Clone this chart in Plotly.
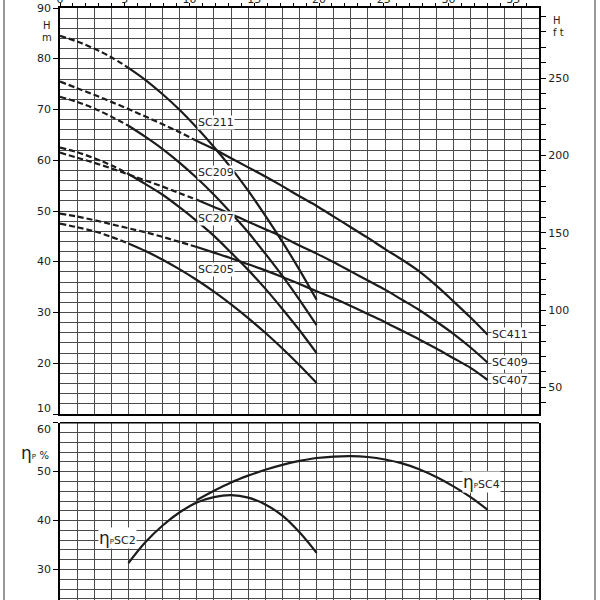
import plotly.graph_objects as go

# ---------------- data ----------------
Q_SC2 = [0, 5, 10, 15, 20, 25, 30, 35, 40, 45, 50, 55, 60, 65, 70, 75]          # l/min
H_SC211 = [84.5, 83.4, 82.0, 80.3, 78.2, 75.8, 73.0, 69.9, 66.4, 62.6, 58.5, 54.0, 49.1, 43.9, 38.4, 32.5]
H_SC209 = [72.5, 71.5, 70.2, 68.6, 66.8, 64.6, 62.2, 59.5, 56.5, 53.2, 49.6, 45.8, 41.6, 37.2, 32.5, 27.5]
H_SC207 = [62.5, 61.6, 60.4, 59.0, 57.3, 55.3, 53.2, 50.7, 48.0, 45.1, 41.8, 38.4, 34.7, 30.7, 26.5, 22.0]
H_SC205 = [47.5, 46.8, 46.0, 44.9, 43.6, 42.1, 40.4, 38.5, 36.4, 34.1, 31.6, 28.9, 26.0, 22.9, 19.6, 16.1]

Q_SC4 = [0, 5, 10, 15, 20, 25, 30, 35, 40, 45, 50, 55, 60, 65, 70, 75, 80, 85, 90, 95,
         100, 105, 110, 115, 120, 125]
H_SC411 = [75.5, 74.2, 72.9, 71.5, 70.1, 68.6, 67.1, 65.5, 63.8, 62.2, 60.4, 58.6, 56.8, 54.9,
           52.9, 51.0, 48.9, 46.8, 44.7, 42.5, 40.4, 38.1, 35.3, 32.2, 29.0, 25.6]
H_SC409 = [61.5, 60.5, 59.5, 58.4, 57.2, 56.0, 54.8, 53.5, 52.2, 50.8, 49.4, 47.9, 46.4, 44.9,
           43.2, 41.6, 39.9, 38.1, 36.3, 34.5, 32.5, 30.5, 28.2, 25.8, 23.1, 20.1]
H_SC407 = [49.5, 48.9, 48.2, 47.4, 46.6, 45.8, 44.9, 43.9, 42.9, 41.8, 40.7, 39.5, 38.3, 37.0,
           35.6, 34.2, 32.8, 31.3, 29.7, 28.1, 26.4, 24.7, 22.9, 21.0, 19.1, 16.7]

Q_ETA2 = [20, 25, 30, 35, 40, 45, 50, 55, 60, 65, 70, 75]
ETA_SC2 = [31.3, 35.6, 39.0, 41.7, 43.7, 44.8, 45.2, 44.7, 43.3, 41.0, 37.6, 33.4]
Q_ETA4 = [40, 45, 50, 55, 60, 65, 70, 75, 80, 85, 90, 95, 100, 105, 110, 115, 120, 125]
ETA_SC4 = [44.2, 46.1, 47.8, 49.2, 50.4, 51.4, 52.2, 52.8, 53.1, 53.2, 53.0, 52.5, 51.7,
           50.5, 48.9, 47.0, 44.8, 42.2]

DASH_END_SC2 = 20
DASH_END_SC4 = 40

H_TICKS_M = [10, 20, 30, 40, 50, 60, 70, 80, 90]
H_TICKS_FT = list(range(40, 300, 10))
FT_LABELS = [50, 100, 150, 200, 250]
GPM_TICKS = list(range(0, 37))
GPM_LABELS = [0, 5, 10, 15, 20, 25, 30, 35]
ETA_TICKS = [30, 40, 50, 60]

LABELS_SC2 = [("SC211", 67.5), ("SC209", 57.5), ("SC207", 48.6), ("SC205", 38.4)]
LABELS_SC4 = [("SC411", 25.6), ("SC409", 20.2), ("SC407", 16.7)]

# ---------------- layout helpers ----------------
W, H = 600, 600
ML, MR, MT, MB = 60, 61, 8, 0
PW, PH = W - ML - MR, H - MT - MB


def px(x):
    return (x - ML) / PW


def py(y):
    return 1 - (y - MT) / PH


M_TO_FT = 3.28084
L_PER_GPM = 3.78541
FONT = "DejaVu Sans"
INK = "#1c1c1c"
GRID = "#4a4a4a"

fig = go.Figure()


def curve(qs, hs, dash_end, xa, ya):
    qd = [q for q in qs if q <= dash_end]
    hd = [h for q, h in zip(qs, hs) if q <= dash_end]
    qsol = [q for q in qs if q >= dash_end]
    hsol = [h for q, h in zip(qs, hs) if q >= dash_end]
    fig.add_trace(go.Scatter(x=qd, y=hd, xaxis=xa, yaxis=ya, mode="lines",
                             line=dict(color=INK, width=2.2, dash="6px,3px", shape="spline"),
                             hoverinfo="skip"))
    fig.add_trace(go.Scatter(x=qsol, y=hsol, xaxis=xa, yaxis=ya, mode="lines",
                             line=dict(color=INK, width=2.2, shape="spline"),
                             hoverinfo="skip"))


for hs in (H_SC211, H_SC209, H_SC207, H_SC205):
    curve(Q_SC2, hs, DASH_END_SC2, "x", "y")
for hs in (H_SC411, H_SC409, H_SC407):
    curve(Q_SC4, hs, DASH_END_SC4, "x", "y")

fig.add_trace(go.Scatter(x=Q_ETA2, y=ETA_SC2, xaxis="x3", yaxis="y3", mode="lines",
                         line=dict(color=INK, width=2.2, shape="spline"), hoverinfo="skip"))
fig.add_trace(go.Scatter(x=Q_ETA4, y=ETA_SC4, xaxis="x3", yaxis="y3", mode="lines",
                         line=dict(color=INK, width=2.2, shape="spline"), hoverinfo="skip"))

# invisible helpers so the secondary axes render
fig.add_trace(go.Scatter(x=[0], y=[10 * M_TO_FT], xaxis="x", yaxis="y2", mode="markers",
                         marker=dict(opacity=0), hoverinfo="skip"))
fig.add_trace(go.Scatter(x=[0], y=[50], xaxis="x2", yaxis="y", mode="markers",
                         marker=dict(opacity=0), hoverinfo="skip"))

up_dom = [py(414), 1]
lo_dom = [0, py(422.8)]

axis_common = dict(showgrid=True, gridcolor=GRID, gridwidth=1, zeroline=False, automargin=False)

fig.update_layout(
    width=W, height=H, margin=dict(l=ML, r=MR, t=MT, b=MB, autoexpand=False),
    paper_bgcolor="white", plot_bgcolor="white", showlegend=False,
    font=dict(family=FONT, size=11, color="#222"),
    xaxis=dict(domain=[0, 1], range=[0, 140], anchor="y", dtick=5, tick0=0,
               showticklabels=False, ticks="", showline=True, mirror=True,
               linecolor="black", linewidth=1.5, **axis_common),
    xaxis2=dict(range=[0, 140], overlaying="x", side="top", anchor="y",
                tickmode="array", tickvals=[g * L_PER_GPM for g in GPM_TICKS],
                ticktext=[str(g) if g in GPM_LABELS else "" for g in GPM_TICKS],
                ticks="outside", ticklen=4, tickcolor="black", showgrid=False,
                ticklabelstandoff=-4,
                showline=False, zeroline=False, automargin=False, tickfont=dict(size=11)),
    yaxis=dict(domain=up_dom, range=[10, 90], anchor="x", tickmode="array",
               tickvals=H_TICKS_M, ticks="outside", ticklen=5, tickcolor="black",
               showticklabels=False,
               showline=True, mirror=True, linecolor="black", linewidth=1.5,
               minor=dict(dtick=2, tick0=0, showgrid=True, gridcolor=GRID, gridwidth=1, ticks=""),
               **axis_common),
    yaxis2=dict(range=[10 * M_TO_FT, 90 * M_TO_FT], overlaying="y", side="right",
                anchor="x", tickmode="array", tickvals=H_TICKS_FT,
                ticktext=[str(v) if v in FT_LABELS else "" for v in H_TICKS_FT],
                ticks="outside", ticklen=6, tickcolor="black", showgrid=False,
                showline=False, zeroline=False, automargin=False),
    xaxis3=dict(domain=[0, 1], range=[0, 140], anchor="y3", dtick=5, tick0=0,
                showticklabels=False, ticks="", showline=False, **axis_common),
    yaxis3=dict(domain=lo_dom, range=[23.76, 60], anchor="x3", tickmode="array",
                tickvals=ETA_TICKS, ticks="outside", ticklen=5, tickcolor="black",
                showticklabels=False,
                showline=True, mirror=True, linecolor="black", linewidth=1.5,
                minor=dict(dtick=2, tick0=0, showgrid=True, gridcolor=GRID, gridwidth=1, ticks=""),
                **axis_common),
)

# top border of the lower panel
fig.add_shape(type="line", xref="paper", yref="paper", x0=0, x1=1, y0=lo_dom[1], y1=lo_dom[1],
              line=dict(color="black", width=1.5))
# page frame lines
for xpix in (4, 595):
    fig.add_shape(type="line", xref="paper", yref="paper", x0=px(xpix), x1=px(xpix),
                  y0=0, y1=py(0), line=dict(color="#777", width=1.5))

ann = []
for name, hv in LABELS_SC2:
    ann.append(dict(x=40, y=hv, xref="x", yref="y", text=name, showarrow=False,
                    xanchor="left", yanchor="middle", bgcolor="white", borderpad=0))
for name, hv in LABELS_SC4:
    ann.append(dict(x=126, y=hv, xref="x", yref="y", text=name, showarrow=False,
                    xanchor="left", yanchor="middle", bgcolor="white", borderpad=0))

# head axis labels (10 sits slightly above its line, as in the original)
for v in H_TICKS_M:
    yv = v + 1.1 if v == 10 else v
    ann.append(dict(x=px(53), y=yv, xref="paper", yref="y", text=str(v), showarrow=False,
                    xanchor="right", yanchor="middle"))
# efficiency axis labels (60 drawn slightly below its line, as in the original)
for v in ETA_TICKS:
    yv = v - 1.3 if v == 60 else v
    ann.append(dict(x=px(53), y=yv, xref="paper", yref="y3", text=str(v), showarrow=False,
                    xanchor="right", yanchor="middle"))

eta_txt = "<span style='font-size:17px'>η</span><span style='font-size:7px'>P</span>"
ann.append(dict(x=11.0, y=36.4, xref="x3", yref="y3", text=eta_txt + "SC2", showarrow=False,
                xanchor="left", yanchor="middle", bgcolor="white", borderpad=0))
ann.append(dict(x=117.5, y=47.9, xref="x3", yref="y3", text=eta_txt + "SC4", showarrow=False,
                xanchor="left", yanchor="middle", bgcolor="white", borderpad=0))

small = dict(size=10)
ann.append(dict(x=px(47), y=py(25), xref="paper", yref="paper", text="H", showarrow=False,
                xanchor="center", yanchor="middle", font=small))
ann.append(dict(x=px(47), y=py(37.5), xref="paper", yref="paper", text="m", showarrow=False,
                xanchor="center", yanchor="middle", font=small))
ann.append(dict(x=px(557), y=py(21), xref="paper", yref="paper", text="H", showarrow=False,
                xanchor="center", yanchor="middle", font=small))
ann.append(dict(x=px(558), y=py(33), xref="paper", yref="paper", text="f t", showarrow=False,
                xanchor="center", yanchor="middle", font=small))
ann.append(dict(x=px(35), y=py(453), xref="paper", yref="paper",
                text=eta_txt + " <span style='font-size:10px'>%</span>", showarrow=False,
                xanchor="center", yanchor="middle"))
ann.append(dict(x=px(98), y=py(2), xref="paper", yref="paper", text="gpm", showarrow=False,
                xanchor="center", yanchor="bottom"))
fig.update_layout(annotations=ann)

fig.write_html("out.html", config={"displayModeBar": False},
               post_script="document.body.style.margin='0px';")
